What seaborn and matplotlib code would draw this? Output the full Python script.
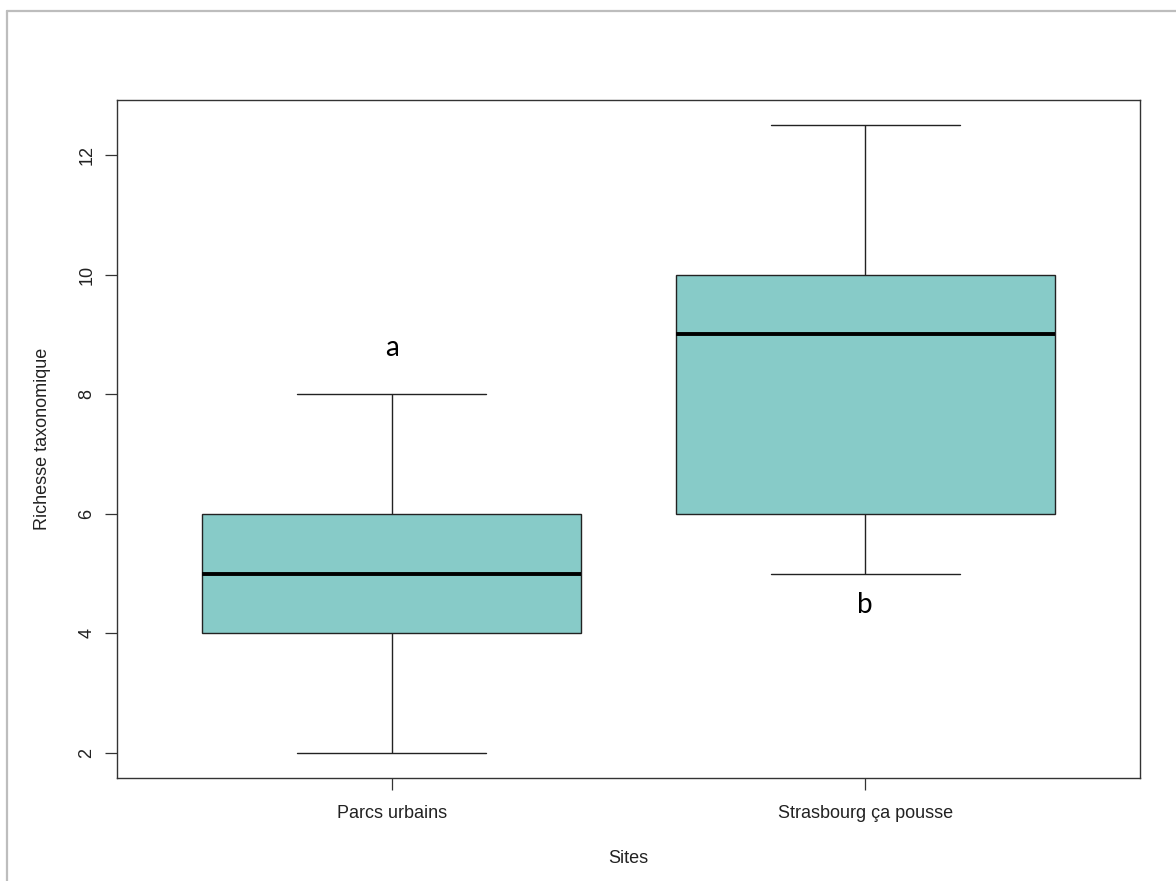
import matplotlib
matplotlib.use("Agg")
import matplotlib.pyplot as plt
from matplotlib.lines import Line2D
import pandas as pd
import seaborn as sns

# Five-number summaries of taxonomic richness per site
sites = ["Parcs urbains", "Strasbourg ça pousse"]
mins = [2, 5]
q1s = [4, 6]
medians = [5, 9]
q3s = [6, 10]
maxs = [8, 12.5]
letters = ["a", "b"]
letter_y = [8.78, 4.48]

# Long table: five observations per site reproduce these quartiles exactly
rows = []
for s, a, b, c, d, e in zip(sites, mins, q1s, medians, q3s, maxs):
    for v in (a, b, c, d, e):
        rows.append({"Sites": s, "Richesse": v})
df = pd.DataFrame(rows)

sns.set_style("ticks")
plt.rcParams["font.family"] = ["Liberation Sans", "DejaVu Sans"]

fig = plt.figure(figsize=(11.76, 8.81), dpi=100)
ax = fig.add_axes([117 / 1176, 1 - 778 / 881, (1140 - 117) / 1176, (778 - 100) / 881])

sns.boxplot(
    data=df, x="Sites", y="Richesse", order=sites, ax=ax,
    color="#87CBC8", saturation=1, width=0.8, showfliers=False,
    linecolor="#222222", linewidth=1.0,
    medianprops=dict(color="black", linewidth=2.8),
    whiskerprops=dict(color="#222222", linewidth=1.0),
    capprops=dict(color="#222222", linewidth=1.0),
    boxprops=dict(edgecolor="#222222", linewidth=1.0),
)

ax.set_xlim(-0.58, 1.58)
ax.set_ylim(1.58, 12.92)
ax.set_yticks([2, 4, 6, 8, 10, 12])
ax.set_yticklabels(["2", "4", "6", "8", "10", "12"], rotation=90, va="center")
ax.tick_params(axis="both", direction="out", length=8.5, width=0.9,
               color="#333333", labelsize=13, labelcolor="#222222")
ax.tick_params(axis="y", pad=7)
ax.tick_params(axis="x", pad=11)
for sp in ax.spines.values():
    sp.set_visible(True)
    sp.set_color("#333333")
    sp.set_linewidth(1.0)

ax.set_xlabel("Sites", fontsize=13, color="#222222", labelpad=20)
ax.set_ylabel("Richesse taxonomique", fontsize=13, color="#222222", labelpad=20)

for i, (lt, ly) in enumerate(zip(letters, letter_y)):
    ax.text(i, ly, lt, ha="center", va="center", fontsize=20,
            family=["Lato", "DejaVu Sans"], color="black")

# light gray frame around the figure
fig.add_artist(Line2D([7 / 1176, 1.0], [1 - 11 / 881, 1 - 11 / 881],
                      transform=fig.transFigure, color="#BDBDBD", lw=1.6))
fig.add_artist(Line2D([7 / 1176, 7 / 1176], [0.0, 1 - 11 / 881],
                      transform=fig.transFigure, color="#BDBDBD", lw=1.6))

fig.savefig("out.png", dpi=100)
